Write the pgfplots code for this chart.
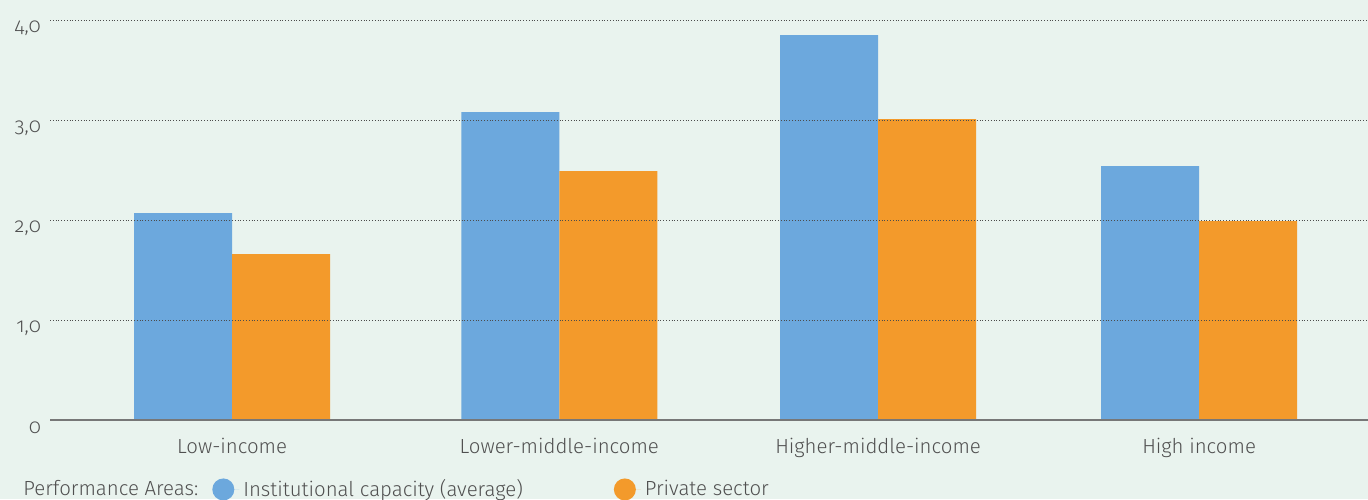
\documentclass[border=0pt]{standalone}
\usepackage{pgfplots}
\pgfplotsset{compat=1.18}
\usepackage{fontspec}
\setmainfont[Numbers=OldStyle]{Fira Sans Light}
\definecolor{bgc}{HTML}{E9F3EE}
\definecolor{bluec}{HTML}{6CA8DD}
\definecolor{orangec}{HTML}{F39A2B}
\definecolor{txt}{HTML}{505050}
\definecolor{axc}{HTML}{777777}
\begin{document}
\begin{tikzpicture}
\fill[bgc] (0,0) rectangle (684pt,249.5pt);
\useasboundingbox (0,0) rectangle (684pt,249.5pt);
\begin{axis}[
  at={(25pt,39.5pt)}, anchor=south west,
  scale only axis, width=659pt, height=200pt,
  xmin=-0.565, xmax=3.524, ymin=0, ymax=4,
  axis on top,
  axis lines*=left,
  y axis line style={draw=none},
  x axis line style={draw=axc, line width=0.8pt},
  major tick length=0pt,
  ytick={0,1,2,3,4},
  yticklabels={0,{1,0},{2,0},{3,0},{4,0}},
  xtick={0,1.015,2.004,3},
  xticklabels={Low-income,Lower-middle-income,Higher-middle-income,High income},
  ymajorgrids,
  grid style={densely dotted, draw=black!70, line width=0.5pt},
  tick label style={font=\fontsize{10.2}{12}\selectfont, text=txt},
  xticklabel style={yshift=-5.5pt},
  yticklabel style={xshift=-1pt, yshift=-4pt},
  ybar,
  bar width=49pt,
  legend style={at={(axis description cs:0,0)}, anchor=north west, xshift=-18.5pt, yshift=-25.5pt,
    draw=none, fill=none, font=\fontsize{10.2}{12}\selectfont, text=txt,
    /tikz/column 2/.style={column sep=5pt},
    /tikz/column 4/.style={column sep=43.5pt}},
  legend columns=3,
]
\addlegendimage{empty legend}
\addlegendentry{Performance Areas:}
\addplot[fill=bluec, draw=none, bar shift=-24.5pt,
  legend image code/.code={\fill[bluec] (5.5pt,0pt) circle (5.5pt); \path (0,0) -- (13.5pt,0);}]
  coordinates {(0,2.07) (1.015,3.08) (2.004,3.85) (3,2.54)};
\addlegendentry{Institutional capacity (average)}
\addplot[fill=orangec, draw=none, bar shift=24.5pt,
  legend image code/.code={\fill[orangec] (5.5pt,0pt) circle (5.5pt); \path (0,0) -- (13.5pt,0);}]
  coordinates {(0,1.66) (1.015,2.49) (2.004,3.01) (3,1.99)};
\addlegendentry{Private sector}
\end{axis}
\end{tikzpicture}
\end{document}
